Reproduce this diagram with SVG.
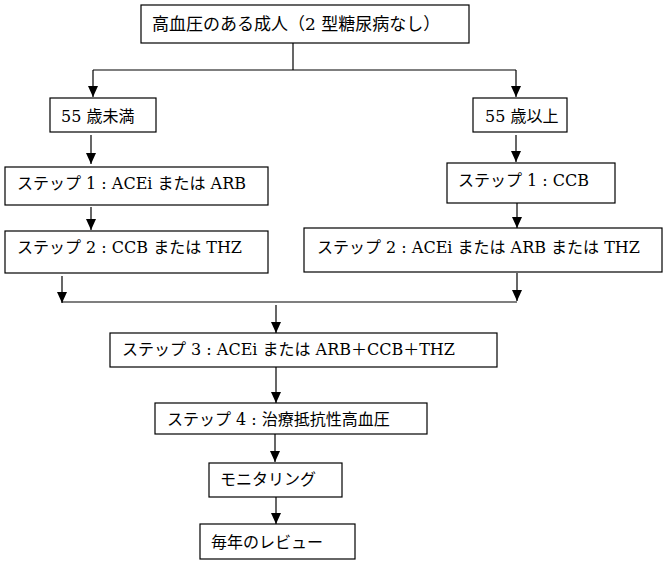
<svg xmlns="http://www.w3.org/2000/svg" width="667" height="565" viewBox="0 0 667 565">
<style>
.box{fill:#fff;stroke:#000;stroke-width:1.2}
.t{font-family:"DejaVu Serif","Noto Sans CJK JP",serif;font-size:16px;fill:#000}
.c{fill:none;stroke:#000;stroke-width:1.2}
</style>
<defs>
<marker id="dn" markerUnits="userSpaceOnUse" markerWidth="10" markerHeight="12" refX="5" refY="11" viewBox="0 0 10 12">
<path d="M0,0 L10,0 L5,11 Z" fill="#000"/>
</marker>
</defs>
<g id="connectors">
<path class="c" d="M293,43 V70"/>
<path class="c" d="M93,70 H516"/>
<path class="c" d="M93,70 V97" marker-end="url(#dn)"/>
<path class="c" d="M516,70 V97" marker-end="url(#dn)"/>
<path class="c" d="M91,135 V164" marker-end="url(#dn)"/>
<path class="c" d="M91,207 V230" marker-end="url(#dn)"/>
<path class="c" d="M516,135 V162" marker-end="url(#dn)"/>
<path class="c" d="M517,203 V228" marker-end="url(#dn)"/>
<path class="c" d="M62,276 V303" marker-end="url(#dn)"/>
<path class="c" d="M517,273 V301" marker-end="url(#dn)"/>
<path class="c" d="M62,302 H517"/>
<path class="c" d="M276,305 V333" marker-end="url(#dn)"/>
<path class="c" d="M276,367 V403" marker-end="url(#dn)"/>
<path class="c" d="M275,434 V462" marker-end="url(#dn)"/>
<path class="c" d="M276,497 V524" marker-end="url(#dn)"/>
</g>
<g id="n-top"><rect class="box" x="141" y="5" width="328" height="38"/><text class="t" x="152" y="30" style="font-size:17px">高血圧のある成人（2 型糖尿病なし）</text></g>
<g id="n-under55"><rect class="box" x="50" y="98" width="106" height="34"/><text class="t" x="61" y="122">55 歳未満</text></g>
<g id="n-over55"><rect class="box" x="473" y="98" width="94" height="34"/><text class="t" x="485" y="122">55 歳以上</text></g>
<g id="n-l-step1"><rect class="box" x="5" y="167" width="263" height="38"/><text class="t" x="17" y="189">ステップ 1 : ACEi または ARB</text></g>
<g id="n-l-step2"><rect class="box" x="5" y="231" width="263" height="42"/><text class="t" x="17" y="253">ステップ 2 : CCB または THZ</text></g>
<g id="n-r-step1"><rect class="box" x="447" y="163" width="168" height="40"/><text class="t" x="458" y="186">ステップ 1 : CCB</text></g>
<g id="n-r-step2"><rect class="box" x="304" y="228" width="358" height="44"/><text class="t" x="317" y="253">ステップ 2 : ACEi または ARB または THZ</text></g>
<g id="n-step3"><rect class="box" x="110" y="333" width="387" height="34"/><text class="t" x="122" y="355">ステップ 3 : ACEi または ARB＋CCB＋THZ</text></g>
<g id="n-step4"><rect class="box" x="155" y="403" width="272" height="31"/><text class="t" x="167" y="425">ステップ 4 : 治療抵抗性高血圧</text></g>
<g id="n-monitor"><rect class="box" x="209" y="463" width="133" height="34"/><text class="t" x="220" y="485">モニタリング</text></g>
<g id="n-review"><rect class="box" x="200" y="524" width="155" height="35"/><text class="t" x="211" y="548">毎年のレビュー</text></g>
</svg>
